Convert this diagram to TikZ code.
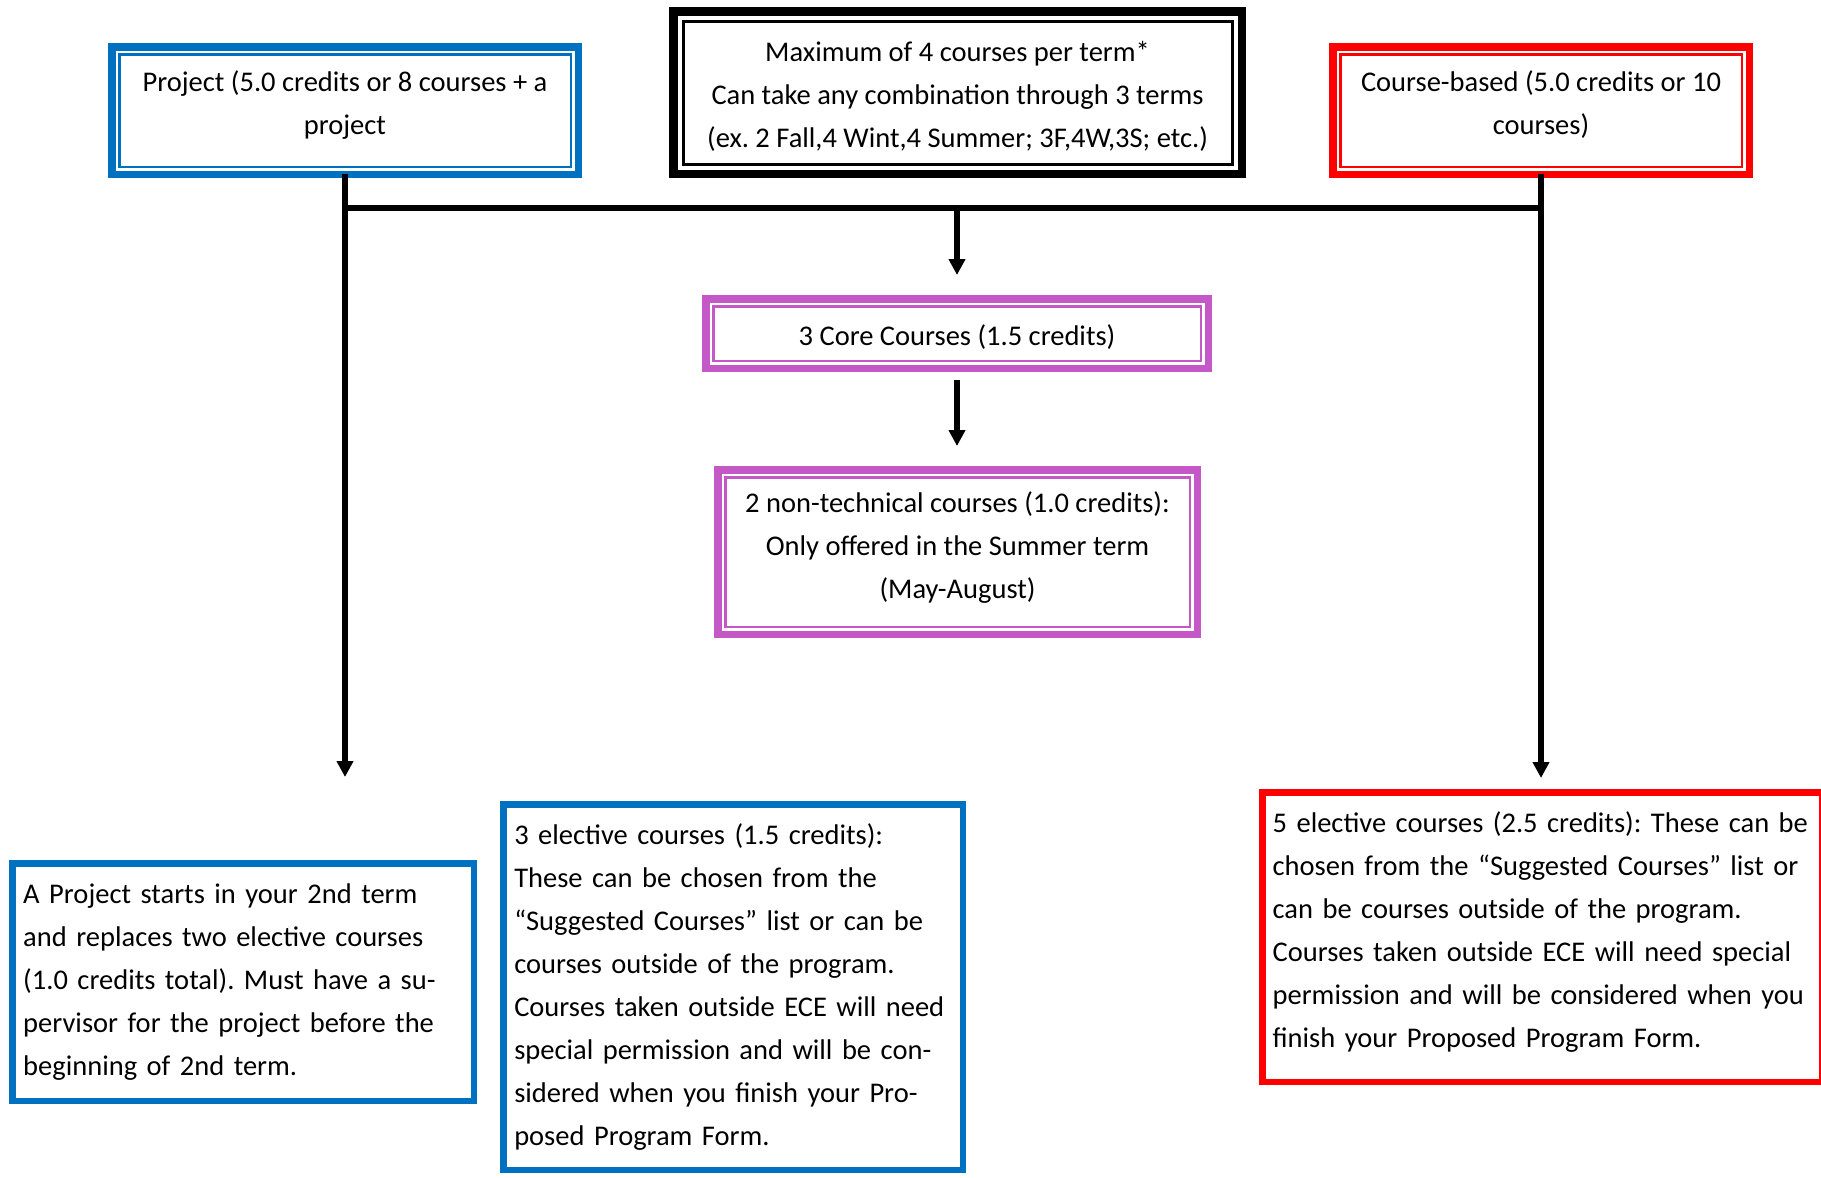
\documentclass[tikz,border=0pt]{standalone}
\usepackage{fontspec}
\setmainfont{Carlito}
\usetikzlibrary{arrows.meta}

\definecolor{ecblue}{RGB}{0,112,192}
\definecolor{ecred}{RGB}{255,0,0}
\definecolor{ecpurple}{RGB}{196,88,198}
\newcommand{\boxfont}{\fontsize{28.5}{43}\selectfont\frenchspacing}

\tikzset{
    dbox/.style={draw=#1, line width=7.5pt, inner sep=0pt, outer sep=0pt, anchor=north west, align=center, font=\boxfont},
    sbox/.style={draw=#1, line width=6.5pt, inner sep=0pt, outer sep=0pt, anchor=north west, align=left, font=\boxfont},
    link/.style={line width=5.5pt},
    arr/.style={link, -{Triangle[width=16pt,length=16pt]}},
}

\begin{document}
\frenchspacing
\begin{tikzpicture}[x=1pt, y=-1pt]
    \useasboundingbox (0,0) rectangle (1821,1178);

    % top row
    \node[dbox=ecblue, minimum width=466.5pt, minimum height=127.5pt] (proj) at (111.75,46.75)
        {Project (5.0 credits or 8 courses + a\\ project\rule[-15pt]{0pt}{0pt}};
    \node[dbox=black, line width=8.5pt, minimum width=568.5pt, minimum height=162.5pt] (maxi) at (673.25,11.25)
        {\rule{0pt}{27pt}Maximum of 4 courses per term*\\ Can take any combination through 3 terms\\ (ex. 2 Fall,4 Wint,4 Summer; 3F,4W,3S; etc.)};
    \node[dbox=ecred, minimum width=416.5pt, minimum height=127.5pt] (cbased) at (1332.75,46.75)
        {Course-based (5.0 credits or 10\\ courses)\rule[-15pt]{0pt}{0pt}};

    % middle column
    \node[dbox=ecpurple, minimum width=502.5pt, minimum height=69.5pt] (core) at (705.75,298.75)
        {\rule{0pt}{28pt}3 Core Courses (1.5 credits)};
    \node[dbox=ecpurple, minimum width=479.5pt, minimum height=164.5pt] (nontech) at (717.75,469.75)
        {2 non-technical courses (1.0 credits):\\ Only offered in the Summer term\\ (May-August)\rule[-13pt]{0pt}{0pt}};

    % inner frames
    \foreach \n/\c in {proj/ecblue, cbased/ecred, core/ecpurple, nontech/ecpurple}
        \draw[\c, line width=2.5pt] ([shift={(7.5pt,-7.5pt)}]\n.north west) rectangle ([shift={(-7.5pt,7.5pt)}]\n.south east);
    \draw[black, line width=3pt] ([shift={(9.75pt,-9.75pt)}]maxi.north west) rectangle ([shift={(-9.75pt,9.75pt)}]maxi.south east);

    % bottom row
    \node[sbox=ecblue, minimum width=461.5pt, minimum height=237.5pt, text width=439.5pt] (note) at (12.25,863.25)
        {A Project starts in your 2nd term\\ and replaces two elective courses\\ (1.0 credits total). Must have a su-\\ pervisor for the project before the\\ beginning of 2nd term.};
    \node[sbox=ecblue, minimum width=459.5pt, minimum height=365.5pt, text width=437.5pt] (elec3) at (503.25,804.25)
        {3 elective courses (1.5 credits):\\ These can be chosen from the\\ “Suggested Courses” list or can be\\ courses outside of the program.\\ Courses taken outside ECE will need\\ special permission and will be con-\\ sidered when you finish your Pro-\\ posed Program Form.};
    \node[sbox=ecred, minimum width=559.75pt, minimum height=289.5pt, text width=539pt] (elec5) at (1262.25,792.25)
        {5 elective courses (2.5 credits): These can be\\ chosen from the “Suggested Courses” list or\\ can be courses outside of the program.\\ Courses taken outside ECE will need special\\ permission and will be considered when you\\ finish your Proposed Program Form.\rule[-15pt]{0pt}{0pt}};

    % connectors
    \coordinate (bar) at (957,208);
    \coordinate (projend) at (345,777);
    \coordinate (cbend) at (1541,778);
    \draw[link, line cap=rect] (proj.south |- bar) -- (cbased.south |- bar);
    \draw[arr] (proj.south) -- (projend);
    \draw[arr] (cbased.south) -- (cbend);
    \draw[arr, shorten >=23.75pt] (bar) -- (core.north);
    \draw[arr, shorten <=11.5pt, shorten >=23.75pt] (core.south) -- (core.south |- nontech.north);
\end{tikzpicture}
\end{document}
